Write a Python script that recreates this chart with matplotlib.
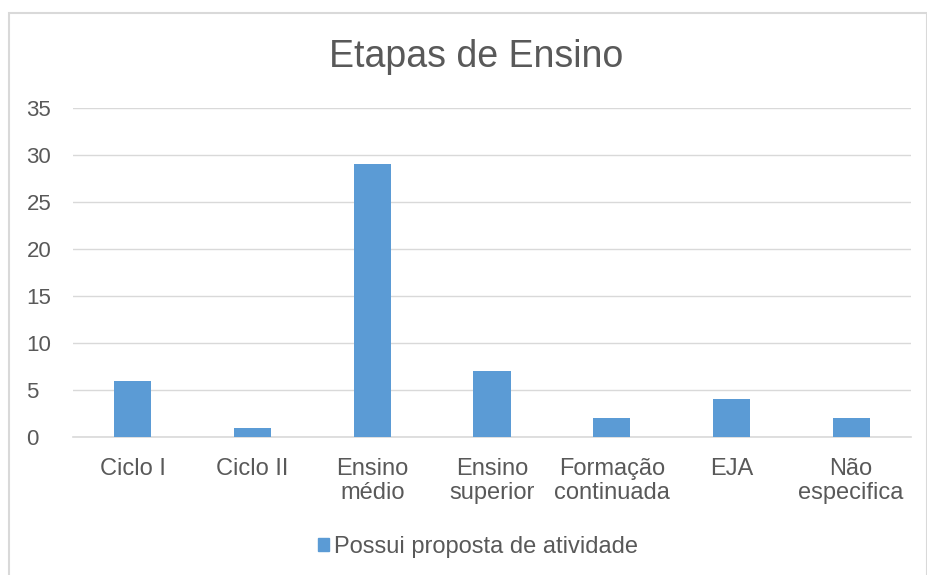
import matplotlib.pyplot as plt
from matplotlib.patches import Rectangle, Patch

categories = ['Ciclo I', 'Ciclo II', 'Ensino\nmédio', 'Ensino\nsuperior',
              'Formação\ncontinuada', 'EJA', 'Não\nespecifica']
values = [6, 1, 29, 7, 2, 4, 2]
series_name = 'Possui proposta de atividade'

plt.rcParams['font.family'] = ['Liberation Sans', 'DejaVu Sans']
text_color = '#595959'
grid_color = '#d9d9d9'
bar_color = '#5b9bd5'

fig = plt.figure(figsize=(9.28, 5.75), dpi=100)
ax = fig.add_axes([73 / 928, 1 - 437 / 575, 838 / 928, 329 / 575])

# outer chart border
fig.patches.append(Rectangle((9 / 928, -0.1), 918 / 928, 1.1 - 13 / 575,
                             transform=fig.transFigure, fill=False,
                             edgecolor=grid_color, linewidth=1.5))

x = range(len(categories))
ax.bar(x, values, width=0.31, color=bar_color, zorder=3)

ax.set_xlim(-0.5, len(categories) - 0.5)
ax.set_ylim(0, 35)
ax.set_yticks(range(0, 36, 5))
ax.yaxis.grid(True, color=grid_color, linewidth=1)
ax.set_axisbelow(True)
for s in ['top', 'right', 'left']:
    ax.spines[s].set_visible(False)
ax.spines['bottom'].set_color(grid_color)
ax.spines['bottom'].set_linewidth(1.2)
ax.tick_params(axis='x', length=0, labelsize=17, colors=text_color, pad=15)
ax.tick_params(axis='y', length=0, labelsize=16, colors=text_color, pad=33.5)
ax.set_xticks(list(x))
ax.set_xticklabels(categories, linespacing=1.15, va='top')
for lbl in ax.get_yticklabels():
    lbl.set_horizontalalignment('left')

fig.text(476 / 928, 1 - 57 / 575, 'Etapas de Ensino', ha='center', va='center',
         fontsize=27, color=text_color)

fig.legend(handles=[Patch(color=bar_color, label=series_name)],
           loc='center', bbox_to_anchor=(478 / 928, 1 - 547 / 575), frameon=False,
           fontsize=17, labelcolor=text_color, handlelength=0.45, handleheight=0.45,
           handletextpad=0.2)

fig.savefig('out.png', dpi=100)
